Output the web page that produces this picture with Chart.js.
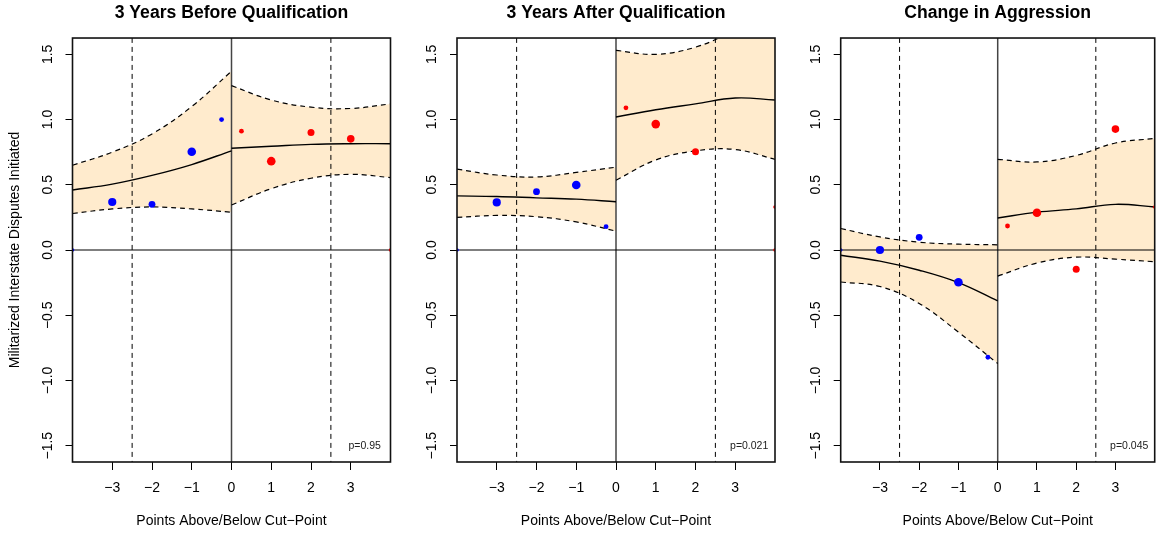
<!DOCTYPE html>
<html><head><meta charset="utf-8">
<script src="https://cdn.jsdelivr.net/npm/chart.js@4.4.1/dist/chart.umd.min.js"></script>
<style>
html,body{margin:0;padding:0;background:#fff;}
#wrap{position:relative;width:1159px;height:533px;overflow:hidden;background:#fff;}
canvas{position:absolute;left:0;top:0;}
</style></head><body>
<div id="wrap">
<canvas id="c1" width="1159" height="533" style="width:1159px;height:533px"></canvas>
<canvas id="c2" width="1159" height="533" style="width:1159px;height:533px"></canvas>
<canvas id="c3" width="1159" height="533" style="width:1159px;height:533px"></canvas>
</div>
<script>
// ---------- data ----------
const titles = ['3 Years Before Qualification', '3 Years After Qualification', 'Change in Aggression'];
const pLabels = ['p=0.95', 'p=0.021', 'p=0.045'];
const xTitle = 'Points Above/Below Cut\u2212Point';
const yTitle = 'Militarized Interstate Disputes Initiated';
const xTickVals = [-3, -2, -1, 0, 1, 2, 3];
const yTickVals = [-1.5, -1, -0.5, 0, 0.5, 1, 1.5];
const cutLines = [-2.5, 2.5];

const xLeft = [-4, -3, -2, -1, 0];
const xRight = [0, 1, 2, 3, 4];

// Panel 1: 3 years before
const p1FitL = [0.46, 0.505, 0.572, 0.655, 0.76];
const p1UpL  = [0.65, 0.75, 0.89, 1.10, 1.37];
const p1LoL  = [0.28, 0.315, 0.33, 0.315, 0.29];
const p1FitR = [0.78, 0.795, 0.81, 0.815, 0.815];
const p1UpR  = [1.26, 1.15, 1.095, 1.085, 1.12];
const p1LoR  = [0.345, 0.47, 0.55, 0.58, 0.555];

// Panel 2: 3 years after
const p2FitL = [0.415, 0.41, 0.40, 0.39, 0.37];
const p2UpL  = [0.62, 0.575, 0.56, 0.595, 0.635];
const p2LoL  = [0.25, 0.265, 0.255, 0.215, 0.145];
const p2FitR = [1.02, 1.075, 1.12, 1.165, 1.15];
const p2UpR  = [1.53, 1.50, 1.555, 1.68, 1.80];
const p2LoR  = [0.535, 0.69, 0.76, 0.77, 0.695];

// Panel 3: change
const p3FitL = [-0.04, -0.085, -0.155, -0.25, -0.39];
const p3UpL  = [0.165, 0.10, 0.06, 0.045, 0.04];
const p3LoL  = [-0.245, -0.28, -0.41, -0.63, -0.87];
const p3FitR = [0.245, 0.29, 0.315, 0.35, 0.33];
const p3UpR  = [0.695, 0.675, 0.725, 0.82, 0.855];
const p3LoR  = [-0.20, -0.10, -0.055, -0.07, -0.09];

// binned means
const blueX = [-3, -2, -1, -0.25];
const redX  = [0.25, 1, 2, 3];
const blueSize = [4.1, 3.4, 4.3, 2.4];
const redSize  = [2.4, 4.3, 3.5, 3.8];
const p1Blue = [0.368, 0.35, 0.753, 1.0];
const p1Red  = [0.911, 0.681, 0.90, 0.852];
const p2Blue = [0.365, 0.447, 0.498, 0.179];
const p2Red  = [1.09, 0.965, 0.753, null];
const p3Blue = [0.0, 0.097, -0.247, -0.822];
const p3Red  = [0.184, 0.286, -0.148, 0.927];

// tiny points at the edges
const edgeBlueX = [-4];
const p1EdgeBlue = [0];
const p2EdgeBlue = [0];
const p3EdgeBlue = [0];
const p1EdgeRedX = [4];
const p1EdgeRed  = [0];
const p2EdgeRedX = [4, 4];
const p2EdgeRed  = [0.33, 0];
const p3EdgeRedX = [4];
const p3EdgeRed  = [0.33];
const edgeSize = 1.8;

// ---------- style / layout ----------
const FONT = "'Liberation Sans', Arial, Helvetica, sans-serif";
const SHADE = '#FFEBCD';
const W = 1159, H = 533;
const areaL = [72.5, 457, 840.7];
const areaR = [390.5, 775, 1158.6];
const Y_AXIS_W = 72;
const X_AXIS_H = 71;

function pts(xs, ys) { return xs.map((x, i) => ({x: x, y: ys[i]})); }

function curve(xs, ys, extra) {
  return Object.assign({
    data: pts(xs, ys), showLine: true, pointRadius: 0, pointHoverRadius: 0,
    borderColor: '#000', borderWidth: 1.4, fill: false,
    tension: 0.4, order: 2
  }, extra || {});
}
function ci(xs, ys, extra) {
  return curve(xs, ys, Object.assign({borderDash: [5, 4], borderWidth: 1.2}, extra || {}));
}
function refLine(data, extra) {
  return Object.assign({
    data: data, showLine: true, pointRadius: 0, pointHoverRadius: 0,
    borderColor: '#000', borderWidth: 1, fill: false, tension: 0, order: 3
  }, extra || {});
}
function dots(xs, ys, sizes, color) {
  return {
    data: pts(xs, ys), showLine: false,
    pointRadius: sizes, pointHoverRadius: sizes,
    backgroundColor: color, borderColor: color, borderWidth: 0,
    pointStyle: 'circle', order: 1
  };
}

const fmtNum = (v, d) => (v < 0 ? '\u2212' : '') + Math.abs(v).toFixed(d);

const boxPlugin = {
  id: 'rbox',
  afterDatasetsDraw(chart, args, opts) {
    const {ctx, scales} = chart;
    ctx.save();
    ctx.fillStyle = '#222';
    ctx.font = '10.5px ' + FONT;
    ctx.textAlign = 'center';
    ctx.textBaseline = 'middle';
    ctx.fillText(opts.p, scales.x.getPixelForValue(3.35), scales.y.getPixelForValue(-1.5));
    ctx.restore();
  },
  afterDraw(chart) {
    const {ctx, chartArea: a} = chart;
    ctx.save();
    ctx.strokeStyle = '#111';
    ctx.lineWidth = 1.6;
    ctx.strokeRect(a.left, a.top, a.right - a.left, a.bottom - a.top);
    ctx.restore();
  }
};

function makePanel(k, fitL, upL, loL, fitR, upR, loR, bY, rY, eB, eRX, eR) {
  const datasets = [
    ci(xLeft, upL, {fill: '+1', backgroundColor: SHADE}),
    ci(xLeft, loL),
    ci(xRight, upR, {fill: '+1', backgroundColor: SHADE}),
    ci(xRight, loR),
    curve(xLeft, fitL),
    curve(xRight, fitR),
    refLine([{x: -5, y: 0}, {x: 5, y: 0}], {borderColor: '#000', borderWidth: 1.2}),
    refLine([{x: 0, y: -2}, {x: 0, y: 2}], {borderColor: '#444', borderWidth: 1.5}),
    refLine([{x: cutLines[0], y: -2}, {x: cutLines[0], y: 2}], {borderDash: [5, 4]}),
    refLine([{x: cutLines[1], y: -2}, {x: cutLines[1], y: 2}], {borderDash: [5, 4]}),
    dots(blueX, bY, blueSize, '#0000FF'),
    dots(redX, rY, redSize, '#FF0000'),
    dots(edgeBlueX, eB, edgeSize, '#0000FF'),
    dots(eRX, eR, edgeSize, '#FF0000')
  ];
  new Chart(document.getElementById('c' + (k + 1)), {
    type: 'scatter',
    data: {datasets: datasets},
    options: {
      responsive: false, maintainAspectRatio: false, animation: false,
      devicePixelRatio: 1, events: [],
      layout: {padding: {left: areaL[k] - Y_AXIS_W, right: W - areaR[k], top: 0, bottom: 0}},
      plugins: {
        legend: {display: false},
        tooltip: {enabled: false},
        filler: {drawTime: 'beforeDatasetsDraw'},
        title: {
          display: true, text: titles[k], fullSize: false, color: '#000',
          font: {family: FONT, size: 17.6, weight: 'bold', lineHeight: 1.2},
          padding: {top: 2.7, bottom: 14.2}
        },
        rbox: {p: pLabels[k]}
      },
      scales: {
        x: {
          type: 'linear', min: -4, max: 4,
          afterBuildTicks: s => { s.ticks = xTickVals.map(v => ({value: v})); },
          afterFit: s => { s.height = X_AXIS_H; },
          grid: {display: true, drawOnChartArea: false, drawTicks: true, tickLength: 8, color: '#000', lineWidth: 1},
          border: {display: false},
          ticks: {
            color: '#000', font: {family: FONT, size: 14}, padding: 10,
            maxRotation: 0, minRotation: 0, autoSkip: false,
            callback: v => fmtNum(v, 0)
          },
          title: {display: true, text: xTitle, color: '#000', font: {family: FONT, size: 14}, padding: {top: 0, bottom: 3}}
        },
        y: {
          type: 'linear', min: -1.625, max: 1.625,
          afterBuildTicks: s => { s.ticks = yTickVals.map(v => ({value: v})); },
          afterFit: s => { s.width = Y_AXIS_W; },
          grid: {display: true, drawOnChartArea: false, drawTicks: true, tickLength: 7, color: '#000', lineWidth: 1},
          border: {display: false},
          ticks: {
            color: '#000', font: {family: FONT, size: 14}, padding: 4,
            minRotation: 90, maxRotation: 90, crossAlign: 'center', autoSkip: false,
            callback: v => fmtNum(v, 1)
          },
          title: {display: k === 0, text: yTitle, color: '#000', font: {family: FONT, size: 14}, padding: {top: 6, bottom: 0}}
        }
      }
    },
    plugins: [boxPlugin]
  });
}

makePanel(0, p1FitL, p1UpL, p1LoL, p1FitR, p1UpR, p1LoR, p1Blue, p1Red, p1EdgeBlue, p1EdgeRedX, p1EdgeRed);
makePanel(1, p2FitL, p2UpL, p2LoL, p2FitR, p2UpR, p2LoR, p2Blue, p2Red, p2EdgeBlue, p2EdgeRedX, p2EdgeRed);
makePanel(2, p3FitL, p3UpL, p3LoL, p3FitR, p3UpR, p3LoR, p3Blue, p3Red, p3EdgeBlue, p3EdgeRedX, p3EdgeRed);
</script>
</body></html>
